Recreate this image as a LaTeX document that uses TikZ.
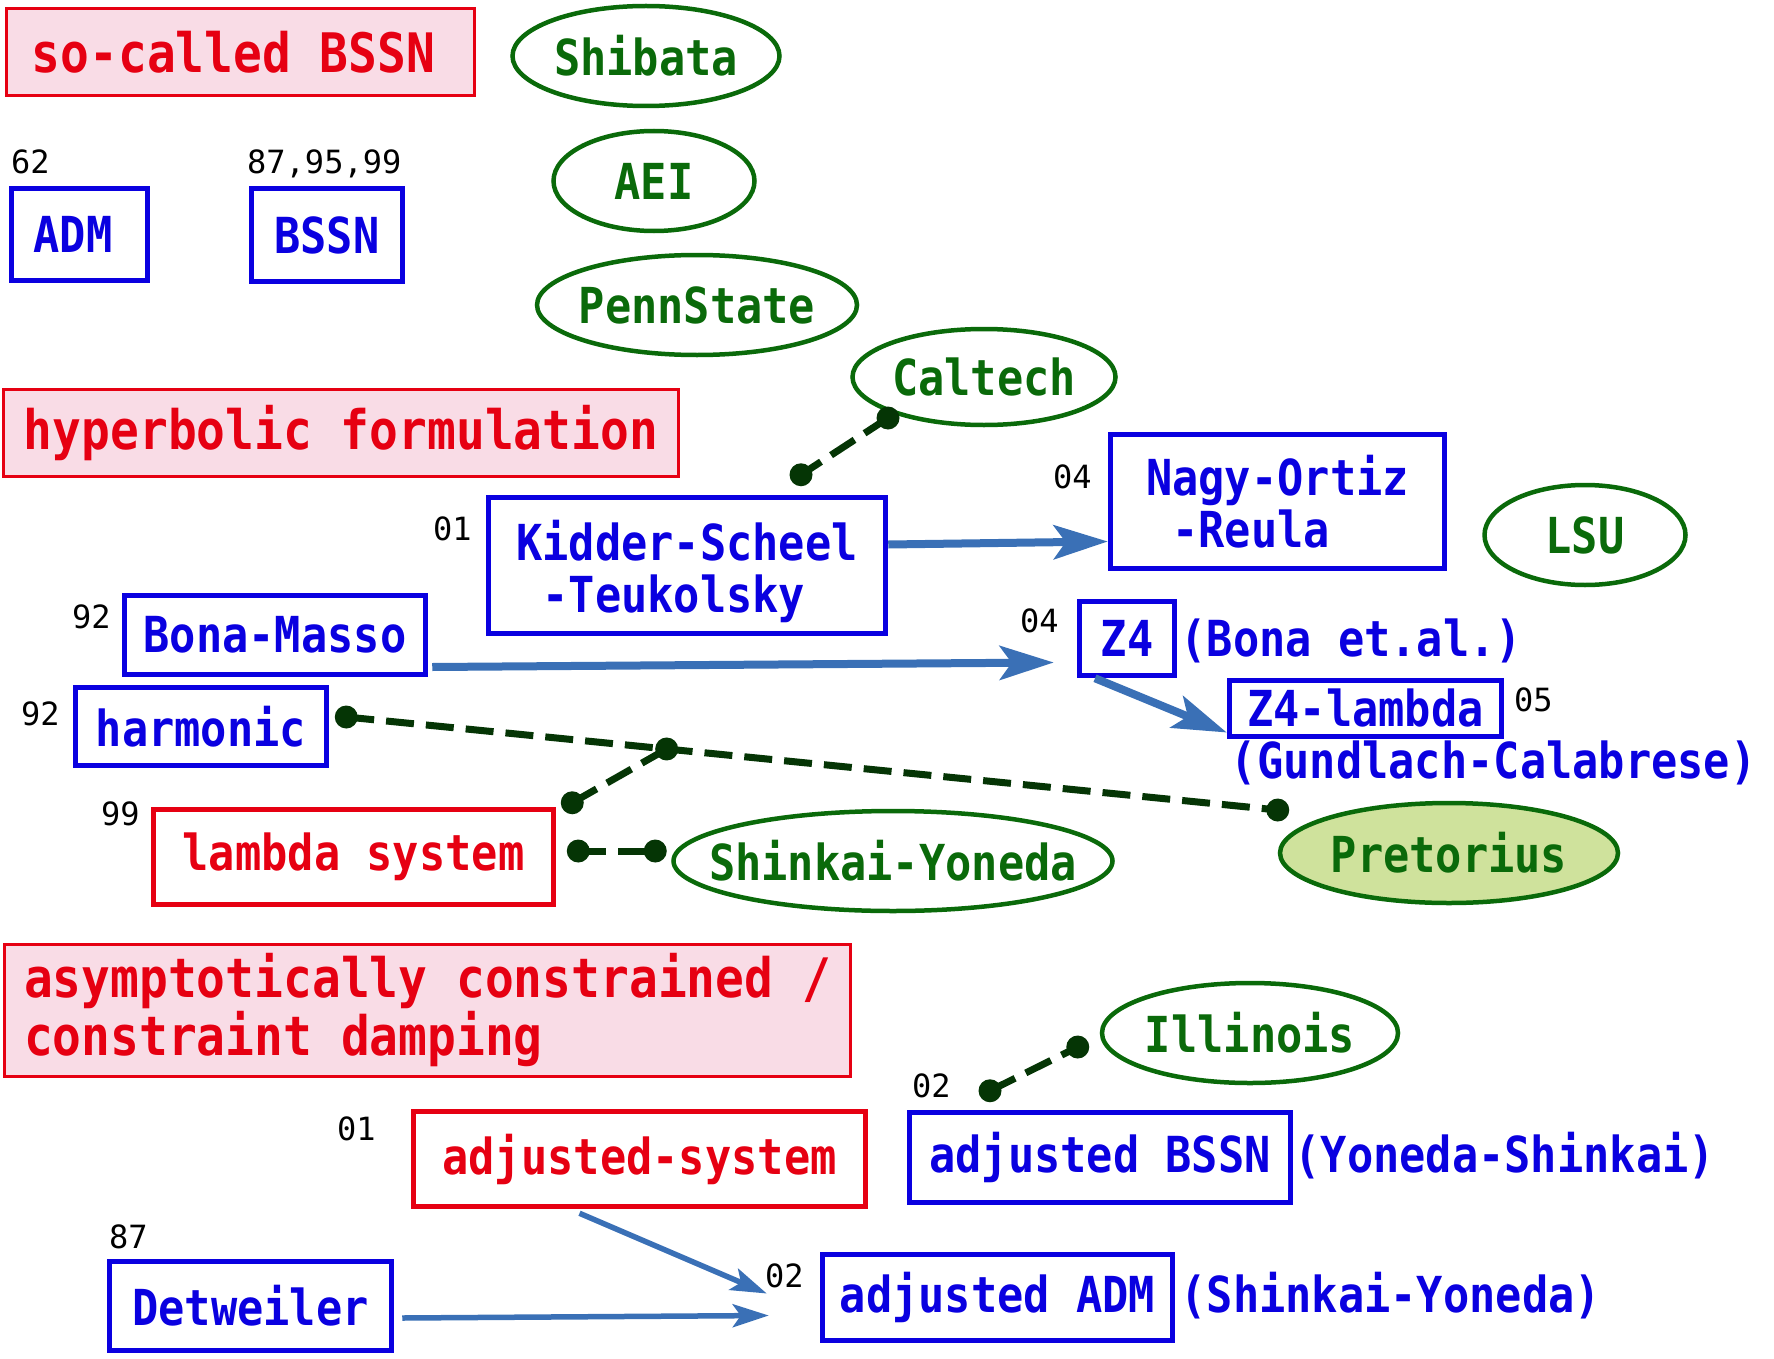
\documentclass[tikz,border=0pt]{standalone}
\usepackage{fontspec}
\usetikzlibrary{arrows.meta,shapes.geometric,calc}
\newfontfamily\mono[FakeStretch=0.88]{DejaVu Sans Mono}
\newfontfamily\yearfont{DejaVu Sans Mono}
\definecolor{formblue}{HTML}{0A00E0}
\definecolor{headred}{HTML}{E60012}
\definecolor{headpink}{HTML}{F9DCE6}
\definecolor{groupgreen}{HTML}{0A6A0A}
\definecolor{pretfill}{HTML}{CFE29C}
\definecolor{arrowblue}{HTML}{3A70B6}
\definecolor{linkgreen}{HTML}{053505}

\begin{document}
\begin{tikzpicture}[x=1pt, y=-1pt,
    every node/.style={font=\mono\bfseries\fontsize{49.6}{52}\selectfont, inner sep=0pt},
    heading/.style={draw=headred, fill=headpink, line width=2.5pt, text=headred,
        font=\mono\bfseries\fontsize{54.4}{58}\selectfont, align=left},
    form/.style={draw=formblue, line width=5.5pt, text=formblue, align=left},
    redform/.style={draw=headred, line width=5.5pt, text=headred},
    group/.style={ellipse, draw=groupgreen, line width=4.5pt, text=groupgreen,
        inner xsep=-90pt, minimum height=100pt},
    year/.style={font=\yearfont\fontsize{32}{32}\selectfont, anchor=base west},
    note/.style={text=formblue, anchor=base west},
    influence/.style={draw=arrowblue, line width=8pt,
        -{Stealth[length=54pt, width=34pt, inset=12pt]}},
    weak influence/.style={draw=arrowblue, line width=5.5pt,
        -{Stealth[length=36pt, width=23pt, inset=8pt]}},
    link/.style={draw=linkgreen, line width=7pt, dash pattern=on 28pt off 12pt}]

    \useasboundingbox (0,0) rectangle (1774,1359);

    % Títulos
    \node[heading, minimum width=468pt, minimum height=87pt] (bssnhead) at (240.5,52) {so-called BSSN\hspace*{14pt}};
    \node[heading, minimum width=675pt, minimum height=87pt] (hyphead) at (341,433) {hyperbolic formulation};
    \node[heading, minimum width=846pt, minimum height=132pt] (achead) at (427.5,1010.5)
        {asymptotically constrained /\\constraint damping};

    % Formulações
    \node[form, minimum width=136pt, minimum height=92pt] (adm) at (79.5,234.5) {ADM\hspace*{13pt}};
    \node[form, minimum width=151pt, minimum height=93pt] (bssn) at (327,235) {BSSN};
    \node[form, minimum width=397pt, minimum height=136pt] (kst) at (687,565.5)
        {\rule{0pt}{52pt}Kidder-Scheel\\~-Teukolsky};
    \node[form, minimum width=334pt, minimum height=134pt] (nor) at (1277.5,501.5) {Nagy-Ortiz\\~-Reula};
    \node[form, minimum width=301pt, minimum height=79pt] (bm) at (275,635) {Bona-Masso};
    \node[form, minimum width=251pt, minimum height=78pt] (harm) at (201,726.5) {harmonic};
    \node[form, minimum width=95pt, minimum height=74pt] (zfour) at (1127,638.5) {Z4};
    \node[form, minimum width=272pt, minimum height=56pt] (zlam) at (1365.5,708.5) {Z4-lambda};
    \node[redform, minimum width=400pt, minimum height=95pt] (lam) at (353.5,857) {lambda system};
    \node[redform, minimum width=452pt, minimum height=95pt] (adjsys) at (639.5,1159) {adjusted-system};
    \node[form, minimum width=381pt, minimum height=90pt] (adjbssn) at (1100,1157.5) {adjusted BSSN};
    \node[form, minimum width=282pt, minimum height=89pt] (detw) at (250.5,1306) {Detweiler};
    \node[form, minimum width=350pt, minimum height=86pt] (adjadm) at (997.5,1297.5) {adjusted ADM};

    \node[note] (bonaetal) at ([xshift=3pt]zfour.base east) {(Bona et.al.)};
    \node[note] (gcnote) at ([xshift=4pt, yshift=-52pt]zlam.base west) {(Gundlach-Calabrese)};
    \node[note] (ysnote) at ([xshift=1pt]adjbssn.base east) {(Yoneda-Shinkai)};
    \node[note] (synote) at ([xshift=5pt]adjadm.base east) {(Shinkai-Yoneda)};

    % Anos
    \node[year] (yadm) at (11,174) {62};
    \node[year] (ybssn) at (247,174) {87,95,99};
    \node[year] (ykst) at (433,540) {01};
    \node[year] (ynor) at (1053,488) {04};
    \node[year] (yzfour) at (1020,632) {04};
    \node[year] (yzlam) at (1514,711) {05};
    \node[year] (ybm) at (72,628) {92};
    \node[year] (yharm) at (21,725) {92};
    \node[year] (ylam) at (101,825) {99};
    \node[year] (yadjbssn) at (912,1097) {02};
    \node[year] (yadjsys) at (337,1140) {01};
    \node[year] (ydetw) at (109,1248) {87};
    \node[year] (yadjadm) at (765,1287) {02};

    % Grupos
    \node[group, minimum width=267pt] (shibata) at (646,56) {Shibata};
    \node[group, minimum width=201pt] (aei) at (654,181) {AEI};
    \node[group, minimum width=320pt] (penn) at (697,305) {PennState};
    \node[group, minimum width=263pt, minimum height=96pt] (caltech) at (984,377) {Caltech};
    \node[group, minimum width=201pt] (lsu) at (1585,535) {LSU};
    \node[group, fill=pretfill, minimum width=338pt] (pret) at (1449,853) {Pretorius};
    \node[group, minimum width=439pt] (sy) at (893,861) {Shinkai-Yoneda};
    \node[group, minimum width=296pt] (ill) at (1250,1033) {Illinois};

    % Influências
    \draw[influence] ([yshift=21pt]kst.east) -- ([yshift=-40pt]nor.west);
    \draw[influence] ([xshift=4pt, yshift=-32pt]bm.east) -- ([xshift=-23pt, yshift=-24pt]zfour.west);
    \draw[influence] ([xshift=-32pt]zfour.south) -- ([yshift=-24pt]zlam.west);
    \draw[weak influence] ([xshift=-60pt, yshift=-4pt]adjsys.south) -- ([xshift=-53pt, yshift=4pt]adjadm.west);
    \draw[weak influence] ([xshift=8pt, yshift=-12pt]detw.east) -- ([xshift=-51pt, yshift=-18pt]adjadm.west);

    % Ligações com os grupos
    \coordinate (cbot) at ([xshift=-96pt, yshift=-41pt]caltech.center);
    \coordinate (ktop) at ([xshift=114pt, yshift=20pt]kst.north);
    \coordinate (hend) at ([xshift=17pt, yshift=9.5pt]harm.east);
    \coordinate (pend) at ([yshift=43pt]pret.west);
    \coordinate (hmid) at ($(hend)!0.344!(pend)$);
    \coordinate (lcorner) at ([xshift=16pt, yshift=4pt]lam.north east);
    \coordinate (lside) at ([xshift=22pt, yshift=6pt]lam.east);
    \coordinate (sside) at ([xshift=-16pt, yshift=10pt]sy.west);
    \coordinate (atop) at ([xshift=-110pt, yshift=19pt]adjbssn.north);
    \coordinate (iside) at ([xshift=-22pt, yshift=-14pt]ill.west);

    \draw[link] (cbot) -- (ktop);
    \draw[link] (hend) -- (pend);
    \draw[link] (lcorner) -- (hmid);
    \draw[link] (lside) -- (sside);
    \draw[link] (atop) -- (iside);
    \fill[linkgreen] (cbot) circle (11.5pt) (ktop) circle (11.5pt)
        (hend) circle (11.5pt) (pend) circle (11.5pt)
        (lcorner) circle (11.5pt) (hmid) circle (11.5pt)
        (lside) circle (11.5pt) (sside) circle (11.5pt)
        (atop) circle (11.5pt) (iside) circle (11.5pt);
\end{tikzpicture}
\end{document}
